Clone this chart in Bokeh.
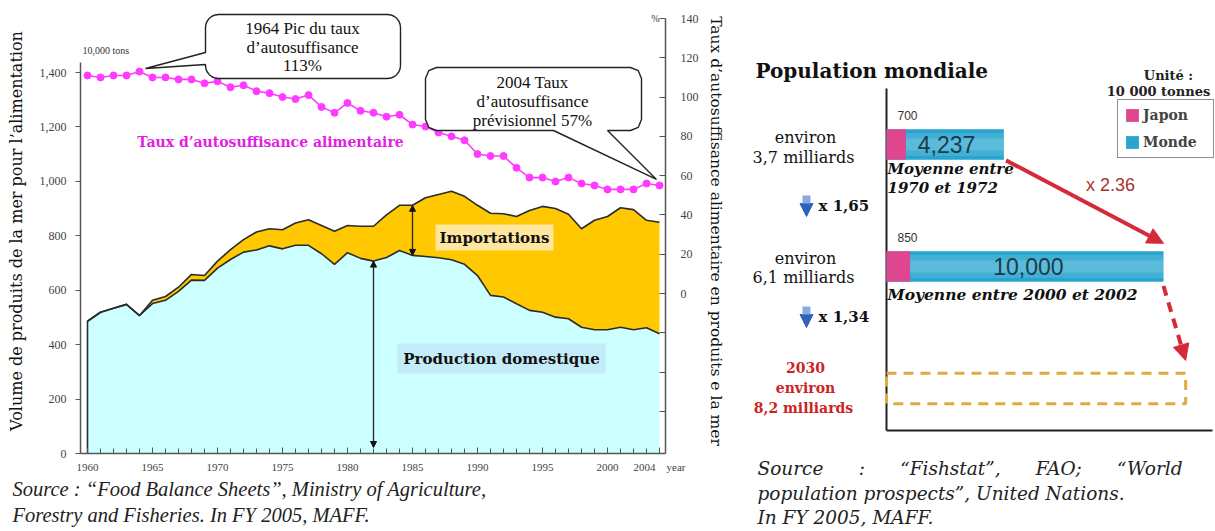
import math
from bokeh.plotting import figure
from bokeh.models import (Range1d, LinearAxis, FixedTicker, NumeralTickFormatter,
                          Label, Arrow, NormalHead, PolyAnnotation, Legend, LegendItem,
                          Title)
from bokeh.layouts import row
from bokeh.embed import file_html
from bokeh.resources import INLINE

# ---------------- data : left chart ----------------
years = list(range(1960, 2005))
production = [486, 519, 534, 548, 507, 551, 563, 596, 637, 636,
              681, 713, 740, 748, 763, 752, 765, 765, 734, 695,
              738, 717, 707, 720, 746, 728, 724, 719, 712, 695,
              654, 581, 575, 550, 526, 519, 501, 495, 464, 455,
              455, 464, 455, 462, 440]
total = [486, 519, 534, 548, 507, 563, 577, 611, 658, 654,
         707, 749, 786, 814, 826, 822, 847, 859, 838, 817,
         838, 835, 835, 877, 912, 912, 940, 952, 964, 945,
         912, 883, 881, 871, 893, 908, 900, 879, 826, 857,
         871, 903, 896, 857, 850]
self_rate = [111, 110, 111, 111, 113, 110, 110, 109, 109, 107,
             108, 105, 106, 103, 102, 100, 99, 101, 95, 92,
             97, 93, 92, 90, 91, 86, 85, 82, 80, 78,
             71, 70, 70, 64, 59, 59, 57, 59, 56, 55,
             53, 53, 53, 56, 55]
x_ticks = [1960, 1965, 1970, 1975, 1980, 1985, 1990, 1995, 2000, 2004]
left_ticks = [0, 200, 400, 600, 800, 1000, 1200, 1400]
right_ticks = [-60, -40, -20, 0, 20, 40, 60, 80, 100, 120, 140]
peak_year, last_year = 1964, 2004

# ---------------- data : right chart ----------------
rows_y = [2, 1]
japan = [700, 850]
world = [4237, 10000]
japan_labels = ["700", "850"]
world_labels = ["4,237", "10,000"]
proj_2030 = 10800

SERIF = "Liberation Serif"
WIDE = "DejaVu Serif"
SANS = "Liberation Sans"
NB = "\u00a0"
H = 531
TOP, BOTTOM = 8, 78

# ======================= LEFT FIGURE =======================
W1 = 748
KY = 381 / 1400.0
def LX(px): return 1960 + (px - 87) / 13.0
def LY(py): return (453 - py) / KY

PCT0_L = LY(293)
PCT140_L = LY(18)
PPL = 140.0 / (PCT140_L - PCT0_L)
def L2P(L): return (L - PCT0_L) * PPL
def P2L(v): return PCT0_L + v / PPL

p = figure(width=W1, height=H, output_backend="svg", toolbar_location=None,
           x_range=Range1d(LX(80), LX(665)), y_range=Range1d(0, LY(TOP)),
           min_border_left=80, min_border_right=W1 - 665, min_border_top=TOP,
           min_border_bottom=BOTTOM)
p.extra_y_ranges = {"pct": Range1d(L2P(0), L2P(LY(TOP)))}
p.outline_line_color = None
p.xgrid.visible = False
p.ygrid.visible = False

p.varea(x=years, y1=[0] * len(years), y2=production, fill_color="#CCFFFF")
p.varea(x=years, y1=production, y2=total, fill_color="#FFC800")
p.line(x=[years[0]] + years, y=[0] + production, line_color="#2b2b2b", line_width=1.6)
p.line(x=years, y=total, line_color="#2b2b2b", line_width=1.6)
p.line(x=years, y=self_rate, y_range_name="pct", line_color="#FF3BFF", line_width=1.6)
p.scatter(x=years, y=self_rate, y_range_name="pct", size=7, fill_color="#FF3BFF",
          line_color="#FF3BFF")

# axes
ya = p.yaxis[0]
ya.ticker = FixedTicker(ticks=left_ticks)
ya.formatter = NumeralTickFormatter(format="0,0")
ya.bounds = (0, LY(62))
ya.minor_tick_line_color = None
ya.major_tick_out = 5
ya.major_tick_in = 0
ya.major_label_standoff = 9
ya.axis_line_color = "#555555"
ya.axis_line_width = 1.5
ya.major_tick_line_color = "#555555"
ya.major_label_text_font = SERIF
ya.major_label_text_font_size = "12px"
ya.major_label_text_color = "#444444"
ya.axis_label = "Volume de produits de la mer pour l’alimentation"
ya.axis_label_text_font = WIDE
ya.axis_label_text_font_size = "16px"
ya.axis_label_text_font_style = "normal"
ya.axis_label_text_color = "#111111"
ya.axis_label_standoff = 11

xa = p.xaxis[0]
xa.ticker = FixedTicker(ticks=x_ticks, minor_ticks=years)
xa.major_label_overrides = {2004: "2004" + NB * 4 + "year"}
xa.major_tick_in = 6
xa.major_tick_out = 0
xa.minor_tick_in = 5
xa.minor_tick_out = 0
xa.axis_line_color = "#555555"
xa.axis_line_width = 1.5
xa.major_tick_line_color = "#555555"
xa.minor_tick_line_color = "#555555"
xa.major_label_standoff = 7
xa.major_label_text_font = SERIF
xa.major_label_text_font_size = "11px"
xa.major_label_text_color = "#444444"

ra = LinearAxis(y_range_name="pct", ticker=FixedTicker(ticks=right_ticks),
                bounds=(L2P(0), 140))
ra.major_label_overrides = {-60: "", -40: "", -20: ""}
ra.major_tick_in = 6
ra.major_tick_out = 0
ra.minor_tick_line_color = None
ra.major_label_standoff = 15
ra.axis_line_color = "#555555"
ra.axis_line_width = 1.5
ra.major_tick_line_color = "#555555"
ra.major_label_text_font = SERIF
ra.major_label_text_font_size = "12px"
ra.major_label_text_color = "#444444"
ra.axis_label = "Taux d’autosuffisance alimentaire en produits e la mer"
ra.axis_label_text_font = WIDE
ra.axis_label_text_font_size = "15.5px"
ra.axis_label_text_font_style = "normal"
ra.axis_label_text_color = "#111111"
ra.axis_label_standoff = 5
p.add_layout(ra, "right")


def txt(fig, X, Y, text, size, color="#111111", font=SERIF, style="normal",
        align="center", baseline="middle", angle=0.0, **kw):
    fig.add_layout(Label(x=X, y=Y, text=text, text_font=font,
                         text_font_size=f"{size}px", text_color=color,
                         text_font_style=style, text_align=align,
                         text_baseline=baseline, angle=angle, **kw))


def rounded(x0, y0, x1, y1, r, n, ptr_side=None, ptr=None):
    pts = []
    def arc(cx, cy, a0, a1):
        for i in range(n + 1):
            a = a0 + (a1 - a0) * i / n
            pts.append((cx + r * math.cos(a), cy + r * math.sin(a)))
    arc(x0 + r, y0 + r, math.pi, 1.5 * math.pi)
    arc(x1 - r, y0 + r, 1.5 * math.pi, 2 * math.pi)
    arc(x1 - r, y1 - r, 0, 0.5 * math.pi)
    if ptr_side == "bottom":
        pts.extend(ptr)
    arc(x0 + r, y1 - r, 0.5 * math.pi, math.pi)
    if ptr_side == "left":
        pts.extend(ptr)
    return pts

# callout 1 (peak)
i_pk = years.index(peak_year)
tip1_px = 87 + 13 * (peak_year - 1960) + 6
tip1_py = 453 - P2L(self_rate[i_pk]) * KY - 3
pts1 = rounded(205, 14, 400, 78, 13, 6, "left",
               [(205, 64), (tip1_px, tip1_py), (205, 52)])
p.add_layout(PolyAnnotation(xs=[LX(a) for a, b in pts1], ys=[LY(b) for a, b in pts1],
                            fill_color="white", fill_alpha=1.0, line_color="#222222",
                            line_alpha=1.0, line_width=1.4))
# callout 2 (2004)
i_ls = years.index(last_year)
tip2_px = 87 + 13 * (last_year - 1960) - 3
tip2_py = 453 - P2L(self_rate[i_ls]) * KY - 6
pts2 = rounded(425, 67, 641, 130, 11, 2, "bottom",
               [(607, 130), (tip2_px, tip2_py), (553, 130)])
p.add_layout(PolyAnnotation(xs=[LX(a) for a, b in pts2], ys=[LY(b) for a, b in pts2],
                            fill_color="white", fill_alpha=1.0, line_color="#222222",
                            line_alpha=1.0, line_width=1.4))

txt(p, LX(302), LY(28), "1964 Pic du taux", 17)
txt(p, LX(302), LY(47), "d’autosuffisance", 17)
txt(p, LX(302), LY(65), "113%", 17)
txt(p, LX(532), LY(82), "2004 Taux", 17)
txt(p, LX(532), LY(101), "d’autosuffisance", 17)
txt(p, LX(532), LY(120), "prévisionnel 57%", 17)

# arrows
i85 = years.index(1985)
i82 = years.index(1982)
for (xx, y0, y1) in [(1985, production[i85], total[i85]), (1982, LY(447), production[i82])]:
    p.add_layout(Arrow(start=NormalHead(size=6, fill_color="#111111", line_color="#111111"),
                       end=NormalHead(size=6, fill_color="#111111", line_color="#111111"),
                       x_start=xx, y_start=y0, x_end=xx, y_end=y1,
                       line_color="#222222", line_width=1.3))

# texts
txt(p, LX(270), LY(141), "Taux d’autosuffisance alimentaire", 14, color="#E21FE2",
    style="bold", font=WIDE)
txt(p, LX(494), LY(237), "Importations", 15, style="bold", font=WIDE,
    background_fill_color="#FFE7A0", padding=4)
txt(p, LX(501), LY(358), "Production domestique", 15, style="bold", font=WIDE,
    background_fill_color="#C4ECF8", padding=6)
txt(p, LX(82), LY(50), "10,000 tons", 10, color="#333333", align="left")
txt(p, LX(655), LY(18), "%", 10, color="#333333")

for i, line in enumerate(["Source : “Food Balance Sheets”, Ministry of Agriculture,",
                          "Forestry and Fisheries. In FY 2005, MAFF."]):
    p.add_layout(Title(text=line, align="left", offset=-68, standoff=(1 if i == 0 else 3),
                       text_font=SERIF, text_font_style="italic",
                       text_font_size="20.5px", text_color="#222222"), "below")

# ======================= RIGHT FIGURE =======================
W2 = 1215 - W1
KX = 277 / 10000.0
def RX(px): return (px - 886) / KX
def RY(py): return 1 + (266 - py) / 122.0

q = figure(width=W2, height=H, output_backend="svg", toolbar_location=None,
           x_range=Range1d(RX(W1), RX(1215)), y_range=Range1d(RY(453), RY(TOP)),
           x_axis_location=None, y_axis_location=None,
           min_border_left=0, min_border_right=0, min_border_top=TOP,
           min_border_bottom=BOTTOM)
q.outline_line_color = None
q.xgrid.visible = False
q.ygrid.visible = False

# frame lines of the panel
q.segment(x0=[0, 0], y0=[RY(430), RY(430)], x1=[0, RX(1212)], y1=[RY(88), RY(430)],
          line_color="#222222", line_width=2)

BH = 0.25
r_w = q.hbar(y=rows_y, left=[0, 0], right=world, height=BH, fill_color="#27A5CE",
             line_color=None)
q.hbar(y=rows_y, left=japan, right=world, height=BH * 0.75, fill_color="white",
       fill_alpha=0.12, line_color=None)
q.hbar(y=rows_y, left=japan, right=world, height=BH * 0.4, fill_color="white",
       fill_alpha=0.14, line_color=None)
r_j = q.hbar(y=rows_y, left=[0, 0], right=japan, height=BH, fill_color="#DE4790",
             line_color=None)
q.quad(left=[0], right=[proj_2030], bottom=[-0.125], top=[0.125], fill_color=None,
       line_color="#E2A93E", line_width=3, line_dash="10 7")

red = "#D52A3A"
q.add_layout(Arrow(end=NormalHead(size=16, fill_color=red, line_color=red),
                   x_start=world[0] + 80, y_start=rows_y[0] - 0.13,
                   x_end=world[1], y_end=rows_y[1] + 0.19,
                   line_color=red, line_width=4))
q.add_layout(Arrow(end=NormalHead(size=16, fill_color=red, line_color=red),
                   x_start=world[1], y_start=rows_y[1] - 0.16,
                   x_end=proj_2030, y_end=0.23,
                   line_color=red, line_width=4, line_dash="10 7"))

for yy, jl, wl, jv, wv in zip(rows_y, japan_labels, world_labels, japan, world):
    txt(q, RX(897), yy + 0.235, jl, 12, font=SANS, color="#333333", align="left")
    txt(q, (jv + wv) / 2.0 - 300, yy, wl, 23, font=SANS, color="#1B3A4D")

txt(q, RX(887), RY(168), "Moyenne entre", 15, font=WIDE, style="bold italic", align="left")
txt(q, RX(887), RY(187), "1970 et 1972", 15, font=WIDE, style="bold italic", align="left")
txt(q, RX(887), RY(294), "Moyenne entre 2000 et 2002", 15.5, font=WIDE,
    style="bold italic", align="left")
txt(q, RX(1110), RY(184), "x 2.36", 18, font=SANS, color="#A8322E")

txt(q, RX(755), RY(70), "Population mondiale", 20, font=WIDE, style="bold", align="left")
txt(q, RX(1168), RY(75), "Unité :", 13, font=WIDE, style="bold", color="#222222")
txt(q, RX(1158), RY(91), "10 000 tonnes", 13, font=WIDE, style="bold", color="#222222")

txt(q, RX(805), RY(137), "environ", 16, font=WIDE)
txt(q, RX(803), RY(157), "3,7 milliards", 16, font=WIDE)
txt(q, RX(805), RY(258), "environ", 16, font=WIDE)
txt(q, RX(803), RY(277), "6,1 milliards", 16, font=WIDE)
txt(q, RX(805), RY(367), "2030", 14, color="#CC2424", style="bold", font=WIDE)
txt(q, RX(805), RY(387), "environ", 14, color="#CC2424", style="bold", font=WIDE)
txt(q, RX(803), RY(407), "8,2 milliards", 14, color="#CC2424", style="bold", font=WIDE)
txt(q, RX(818), RY(205), "x 1,65", 15, style="bold", align="left", font=WIDE)
txt(q, RX(818), RY(316), "x 1,34", 15, style="bold", align="left", font=WIDE)
for ya0, ya1 in [(195, 216), (306, 327)]:
    q.add_layout(Arrow(end=NormalHead(size=13, fill_color="#2F62B8", line_color="#2F62B8"),
                       x_start=RX(806), y_start=RY(ya0), x_end=RX(806), y_end=RY(ya1),
                       line_color="#86ABE2", line_width=8))

leg = Legend(items=[LegendItem(label="Japon", renderers=[r_j]),
                    LegendItem(label="Monde", renderers=[r_w])],
             location=(1117 - W1, 453 - 158), orientation="vertical")
leg.border_line_color = "#222222"
leg.border_line_width = 1.5
leg.background_fill_color = "white"
leg.background_fill_alpha = 1.0
leg.padding = 6
leg.spacing = 9
leg.margin = 0
leg.glyph_width = 16
leg.glyph_height = 16
leg.label_standoff = 3
leg.label_width = 64
leg.label_height = 18
leg.label_text_font = WIDE
leg.label_text_font_style = "bold"
leg.label_text_font_size = "14px"
q.add_layout(leg)

G = NB * 6
for i, line in enumerate(["Source" + G + ":" + G + "“Fishstat”," + G + "FAO;" + G + "“World",
                          "population prospects”, United Nations.",
                          "In FY 2005, MAFF."]):
    q.add_layout(Title(text=line, align="left", offset=9, standoff=(4 if i == 0 else 1),
                       text_font=WIDE, text_font_style="italic",
                       text_font_size="18.5px", text_color="#222222"), "below")

layout = row(p, q)
open("out.html", "w").write(file_html(layout, INLINE))
